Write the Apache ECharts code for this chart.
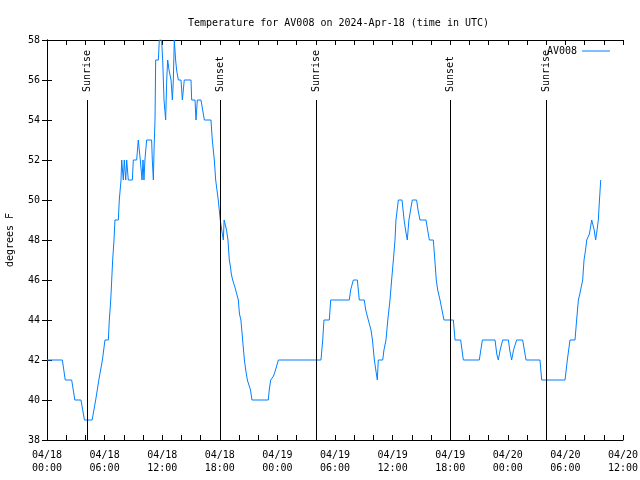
<!DOCTYPE html>
<html><head><meta charset="utf-8">
<script src="https://cdn.jsdelivr.net/npm/echarts@6/dist/echarts.min.js"></script>
<style>html,body{margin:0;padding:0;background:#fff}#c{width:640px;height:480px}</style>
</head><body><div id="c"></div>
<script>
// hours since 2024-04-18 00:00 UTC
const hours = [0,1.6,1.9,2.57,2.9,3.54,3.9,4.7,5.07,5.4,5.77,6.04,6.39,6.49,6.64,6.74,6.84,6.98,7.08,7.43,7.53,7.71,7.78,7.95,8.05,8.2,8.3,8.47,8.89,8.99,9.34,9.51,9.62,9.72,9.9,10.0,10.1,10.2,10.38,10.9,10.97,11.08,11.15,11.25,11.32,11.6,11.7,11.94,12.05,12.19,12.36,12.47,12.57,12.71,12.92,13.06,13.16,13.26,13.4,13.5,13.68,13.96,14.1,14.3,15.0,15.07,15.42,15.52,15.66,16.04,16.39,17.08,17.22,17.43,17.57,17.84,18.0,18.05,18.2,18.37,18.45,18.54,18.7,18.85,18.99,19.1,19.2,19.34,19.6,19.93,20.05,20.2,20.38,20.56,20.7,20.87,21.0,21.2,21.35,23.05,23.15,23.3,23.6,23.8,24.1,28.54,28.72,28.85,29.41,29.55,31.49,31.63,31.91,32.33,32.53,33.05,33.2,33.47,33.58,33.75,33.9,34.1,34.25,34.41,34.51,34.97,35.1,35.31,35.5,35.73,35.9,36.08,36.25,36.35,36.6,36.98,37.2,37.35,37.53,37.7,38.05,38.5,38.65,38.85,39.48,39.65,39.83,40.24,40.4,40.55,40.7,40.94,41.11,41.35,42.33,42.5,43.09,43.37,45.03,45.35,46.67,46.85,47.01,47.2,47.47,48.06,48.2,48.4,48.6,48.92,49.55,49.9,51.35,51.53,53.96,54.2,54.48,55.0,55.17,55.35,55.5,55.8,55.94,56.1,56.22,56.5,56.74,56.9,57.0,57.15,57.3,57.43,57.55,57.68];
const temps = [42,42,41,41,40,40,39,39,40,41,42,43,43,44,45,46,47,48,49,49,50,51,52,51,52,51,52,51,51,52,52,53,53,52,51,52,51,52,53,53,52,51,52.5,54,57,57,58,58,57,55,54,56,57,56.5,56,55,56,58,57,56.5,56,56,55,56,56,55,55,54,55,55,54,54,53,52,51,50,50,49,48.5,48,49,49,48.5,48,47,46.7,46.3,46,45.6,45,44.3,44,43,42,41.5,41,40.8,40.5,40,40,40.5,41,41.2,41.5,42,42,43,44,44,45,45,45.5,46,46,45,45,44.5,44,44,43.5,43,42,41.5,41,42,42,42.5,43,44,45,46,47,48,49,50,50,49,48.5,48,49,50,50,49.5,49,49,48.5,48,48,47,46,45.5,45,45,44,44,43,43,42,42,43,43,42.3,42,42.5,43,43,42.5,42,42.5,43,43,42,42,41,41,42,43,43,44,45,45.3,46,47,47.5,48,48.3,49,49,48.5,48,48.5,49,50,51];
const eventNames = ['Sunrise','Sunset','Sunrise','Sunset','Sunrise'];
const eventHours = [4.22,18.02,28.08,42.03,52.02];
const seriesName = 'AV008';

const FONT = 'DejaVu Sans Mono';
const data = hours.map((h,i)=>[h,temps[i]]);
function xLabel(v){
  if (Math.abs(v % 6) > 1e-6) return '';
  const d = 18 + Math.floor(v/24);
  const h = v % 24;
  return '04/' + d + '\n' + String(h).padStart(2,'0') + ':00';
}
const axisLine = {show:true, lineStyle:{color:'#000', width:1}};
const tick = {show:true, inside:true, length:5, lineStyle:{color:'#000'}};
const markData = [];
eventHours.forEach((h,i)=>{
  markData.push([{coord:[h,38], lineStyle:{color:'#000',width:1,type:'solid'}, label:{show:false}},{coord:[h,55]}]);
  markData.push([{coord:[h,55.4], name:eventNames[i], lineStyle:{color:'rgba(0,0,0,0)',width:1,type:'solid'}, label:{show:true, formatter:'{b}', position:'insideStart', distance:0, color:'#000', fontFamily:FONT, fontSize:10}},{coord:[h,57.9]}]);
});
const chart = echarts.init(document.getElementById('c'), null, {renderer:'canvas'});
chart.setOption({
  animation:false,
  backgroundColor:'#fff',
  title:{text:'Temperature for AV008 on 2024-Apr-18 (time in UTC)', left:183, top:13,
    textStyle:{fontFamily:FONT, fontSize:10, fontWeight:'normal', color:'#000'}},
  legend:{data:[seriesName], right:30, top:46, align:'right', padding:0, itemWidth:28, itemHeight:1, icon:'rect',
    textStyle:{fontFamily:FONT, fontSize:10, color:'#000'}},
  grid:{left:47, right:17, top:40, bottom:40, containLabel:false, outerBoundsMode:'none'},
  xAxis:[
    {type:'value', min:0, max:60, interval:2, position:'bottom', axisLine, axisTick:tick, splitLine:{show:false},
     axisLabel:{formatter:xLabel, fontFamily:FONT, fontSize:10, color:'#000', margin:9, lineHeight:13, showMinLabel:true, showMaxLabel:true, hideOverlap:false}},
    {type:'value', min:0, max:60, interval:2, position:'top', axisLine, axisTick:tick, splitLine:{show:false}, axisLabel:{show:false}}
  ],
  yAxis:[
    {type:'value', min:38, max:58, interval:2, position:'left', axisLine, axisTick:tick, splitLine:{show:false},
     axisLabel:{fontFamily:FONT, fontSize:10, color:'#000', margin:7},
     name:'degrees F', nameLocation:'middle', nameGap:32, nameRotate:90,
     nameTextStyle:{fontFamily:FONT, fontSize:10, color:'#000'}},
    {type:'value', min:38, max:58, interval:2, position:'right', axisLine, axisTick:tick, splitLine:{show:false}, axisLabel:{show:false}}
  ],
  series:[{
    name:seriesName, type:'line', data, symbol:'none', showSymbol:false,
    lineStyle:{color:'#0080ff', width:1}, itemStyle:{color:'#0080ff'},
    xAxisIndex:0, yAxisIndex:0, clip:true,
    markLine:{silent:true, symbol:['none','none'], animation:false, data:markData}
  }]
});
</script></body></html>
